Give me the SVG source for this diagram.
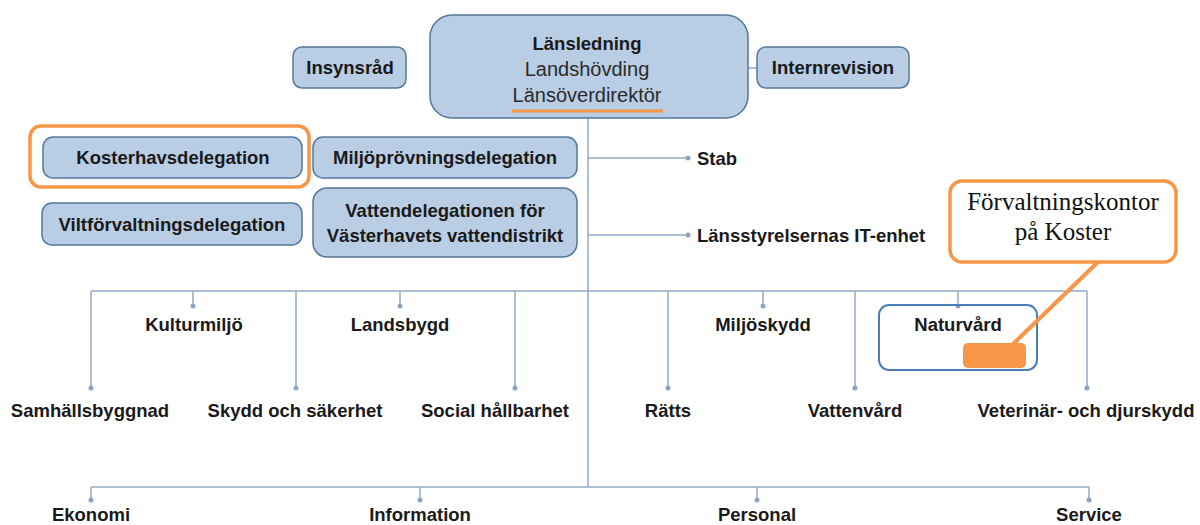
<svg xmlns="http://www.w3.org/2000/svg" width="1200" height="525" viewBox="0 0 1200 525">
<style>
.box{fill:#b9cde5;stroke:#56779c;stroke-width:1.5}
.t{font-family:"Liberation Sans",Arial,sans-serif;font-size:18.5px;font-weight:bold;fill:#1a1a1a;text-anchor:middle}
.tl{font-family:"Liberation Sans",Arial,sans-serif;font-size:18.5px;font-weight:bold;fill:#1a1a1a}
.r{font-family:"Liberation Sans",Arial,sans-serif;font-size:20px;fill:#2a2a2a;text-anchor:middle}
.ln{stroke:#94abc7;stroke-width:1.5;fill:none}
.dot{fill:#8ea5c2}
.cal{font-family:"Liberation Serif","Times New Roman",serif;font-size:25px;fill:#111;text-anchor:middle}
</style>
<rect width="1200" height="525" fill="#ffffff"/>
<g id="connectors">
<path class="ln" d="M588 118V487 M748 68H757 M588 158H688 M588 235H688 M91 291H1087 M91 291V388 M193 291V306 M296 291V388 M400 291V306 M515 291V388 M668 291V388 M763 291V306 M855 291V388 M958 291V306 M1087 291V388 M91 487H1089 M91 487V500 M420 487V500 M757 487V500 M1089 487V500"/>
<g>
<circle class="dot" cx="688" cy="158" r="2.5"/><circle class="dot" cx="688" cy="235" r="2.5"/>
<circle class="dot" cx="91" cy="388" r="2.5"/><circle class="dot" cx="193" cy="306" r="2.5"/>
<circle class="dot" cx="296" cy="388" r="2.5"/><circle class="dot" cx="400" cy="306" r="2.5"/>
<circle class="dot" cx="515" cy="388" r="2.5"/><circle class="dot" cx="668" cy="388" r="2.5"/>
<circle class="dot" cx="763" cy="306" r="2.5"/><circle class="dot" cx="855" cy="388" r="2.5"/>
<circle class="dot" cx="958" cy="306" r="2.5"/><circle class="dot" cx="1087" cy="388" r="2.5"/>
<circle class="dot" cx="91" cy="500" r="2.5"/><circle class="dot" cx="420" cy="500" r="2.5"/>
<circle class="dot" cx="757" cy="500" r="2.5"/><circle class="dot" cx="1089" cy="500" r="2.5"/>
</g>
</g>
<g id="lansledning">
<rect class="box" x="430" y="15" width="318" height="103" rx="22"/>
<text class="t" x="587" y="50">Länsledning</text>
<text class="r" x="587" y="76">Landshövding</text>
<text class="r" x="587" y="102">Länsöverdirektör</text>
<line x1="512" y1="111" x2="663" y2="111" stroke="#f79646" stroke-width="3"/>
</g>
<g id="insynsrad"><rect class="box" x="293" y="47" width="113" height="41" rx="9"/><text class="t" x="350" y="74">Insynsråd</text></g>
<g id="internrevision"><rect class="box" x="757" y="47" width="152" height="41" rx="9"/><text class="t" x="833" y="74">Internrevision</text></g>
<g id="kosterhavsdelegation">
<rect x="30" y="126" width="279" height="61" rx="11" fill="none" stroke="#f79646" stroke-width="3.5"/>
<rect class="box" x="43" y="137" width="259" height="41" rx="10"/><text class="t" x="173" y="164">Kosterhavsdelegation</text></g>
<g id="miljoprovningsdelegation"><rect class="box" x="313" y="137" width="264" height="41" rx="10"/><text class="t" x="445" y="164">Miljöprövningsdelegation</text></g>
<g id="viltforvaltningsdelegation"><rect class="box" x="42" y="203" width="260" height="42" rx="10"/><text class="t" x="172" y="231">Viltförvaltningsdelegation</text></g>
<g id="vattendelegationen"><rect class="box" x="313" y="188" width="264" height="69" rx="14"/><text class="t" x="445" y="217">Vattendelegationen för</text><text class="t" x="445" y="242">Västerhavets vattendistrikt</text></g>
<g id="stab"><text class="tl" x="697" y="165">Stab</text></g>
<g id="it-enhet"><text class="tl" x="697" y="242">Länsstyrelsernas IT-enhet</text></g>
<g id="kulturmiljo"><text class="t" x="194" y="331">Kulturmiljö</text></g>
<g id="landsbygd"><text class="t" x="400" y="331">Landsbygd</text></g>
<g id="miljoskydd"><text class="t" x="763" y="331">Miljöskydd</text></g>
<g id="naturvard">
<rect x="879" y="305" width="158" height="65" rx="10" fill="none" stroke="#4a7ebb" stroke-width="2"/>
<text class="t" x="958" y="331">Naturvård</text>
<rect x="963" y="343" width="63" height="25" rx="5" fill="#f79646"/>
</g>
<g id="samhallsbyggnad"><text class="t" x="90" y="417">Samhällsbyggnad</text></g>
<g id="skydd"><text class="t" x="295" y="417">Skydd och säkerhet</text></g>
<g id="social"><text class="t" x="495" y="417">Social hållbarhet</text></g>
<g id="ratts"><text class="t" x="668" y="417">Rätts</text></g>
<g id="vattenvard"><text class="t" x="855" y="417">Vattenvård</text></g>
<g id="veterinar"><text class="t" x="1086" y="417">Veterinär- och djurskydd</text></g>
<g id="ekonomi"><text class="t" x="91" y="521">Ekonomi</text></g>
<g id="information"><text class="t" x="420" y="521">Information</text></g>
<g id="personal"><text class="t" x="757" y="521">Personal</text></g>
<g id="service"><text class="t" x="1089" y="521">Service</text></g>
<g id="callout">
<line x1="1098" y1="262" x2="1012" y2="345" stroke="#f79646" stroke-width="4"/>
<rect x="950" y="181" width="226" height="81" rx="12" fill="#ffffff" stroke="#f79646" stroke-width="3.5"/>
<text class="cal" x="1063" y="210">Förvaltningskontor</text>
<text class="cal" x="1063" y="240">på Koster</text>
</g>
</svg>
